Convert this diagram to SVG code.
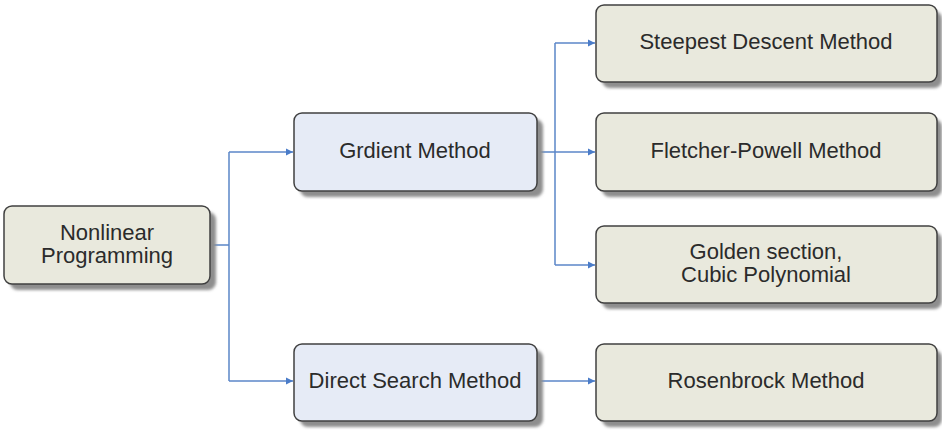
<svg xmlns="http://www.w3.org/2000/svg" width="942" height="432" viewBox="0 0 942 432">
<defs>
<style>
.box{stroke:#404040;stroke-width:1.5}
.g{fill:#e9e9dd}
.b{fill:#e6ebf6}
.sh{fill:#8e8e8e;filter:url(#blur)}
.t{font-family:"Liberation Sans",Arial,sans-serif;font-size:22px;fill:#2b2b2b;text-anchor:middle}
.c{fill:none;stroke:#5b86c8;stroke-width:1.5}
</style>
<filter id="blur" x="-10%" y="-20%" width="120%" height="140%"><feGaussianBlur stdDeviation="1.5"/></filter>
<marker id="ar" markerWidth="8" markerHeight="8" refX="7" refY="4" orient="auto" markerUnits="userSpaceOnUse"><path d="M0,0.5 L7,4 L0,7.5 z" fill="#4a7cc9"/></marker>
</defs>
<rect width="942" height="432" fill="#fff"/>
<g id="connectors">
<path class="c" d="M210,245 H229 M229,152 V381" />
<path class="c" d="M229,152 H293" marker-end="url(#ar)"/>
<path class="c" d="M229,381 H293" marker-end="url(#ar)"/>
<path class="c" d="M537,152 H555 M555,43 V265"/>
<path class="c" d="M555,43 H595" marker-end="url(#ar)"/>
<path class="c" d="M555,152 H595" marker-end="url(#ar)"/>
<path class="c" d="M555,265 H595" marker-end="url(#ar)"/>
<path class="c" d="M537,381 H595" marker-end="url(#ar)"/>
</g>
<g id="n-nonlinear">
<rect class="sh" x="10" y="212" width="206" height="78" rx="8"/>
<rect class="box g" x="4" y="206" width="206" height="78" rx="8"/>
<text class="t" x="107" y="240">Nonlinear</text>
<text class="t" x="107" y="263">Programming</text>
</g>
<g id="n-gradient">
<rect class="sh" x="300" y="119" width="243" height="78" rx="8"/>
<rect class="box b" x="294" y="113" width="243" height="78" rx="8"/>
<text class="t" x="415" y="158">Grdient Method</text>
</g>
<g id="n-direct">
<rect class="sh" x="300" y="350" width="243" height="77" rx="8"/>
<rect class="box b" x="294" y="344" width="243" height="77" rx="8"/>
<text class="t" x="415" y="388">Direct Search Method</text>
</g>
<g id="n-steepest">
<rect class="sh" x="602" y="11" width="340" height="77" rx="8"/>
<rect class="box g" x="596" y="5" width="341" height="77" rx="8"/>
<text class="t" x="766" y="49">Steepest Descent Method</text>
</g>
<g id="n-fletcher">
<rect class="sh" x="602" y="119" width="340" height="78" rx="8"/>
<rect class="box g" x="596" y="113" width="341" height="78" rx="8"/>
<text class="t" x="766" y="158">Fletcher-Powell Method</text>
</g>
<g id="n-golden">
<rect class="sh" x="602" y="232" width="340" height="77" rx="8"/>
<rect class="box g" x="596" y="226" width="341" height="77" rx="8"/>
<text class="t" x="766" y="259">Golden section,</text>
<text class="t" x="766" y="282">Cubic Polynomial</text>
</g>
<g id="n-rosenbrock">
<rect class="sh" x="602" y="350" width="340" height="77" rx="8"/>
<rect class="box g" x="596" y="344" width="341" height="77" rx="8"/>
<text class="t" x="766" y="388">Rosenbrock Method</text>
</g>
</svg>
